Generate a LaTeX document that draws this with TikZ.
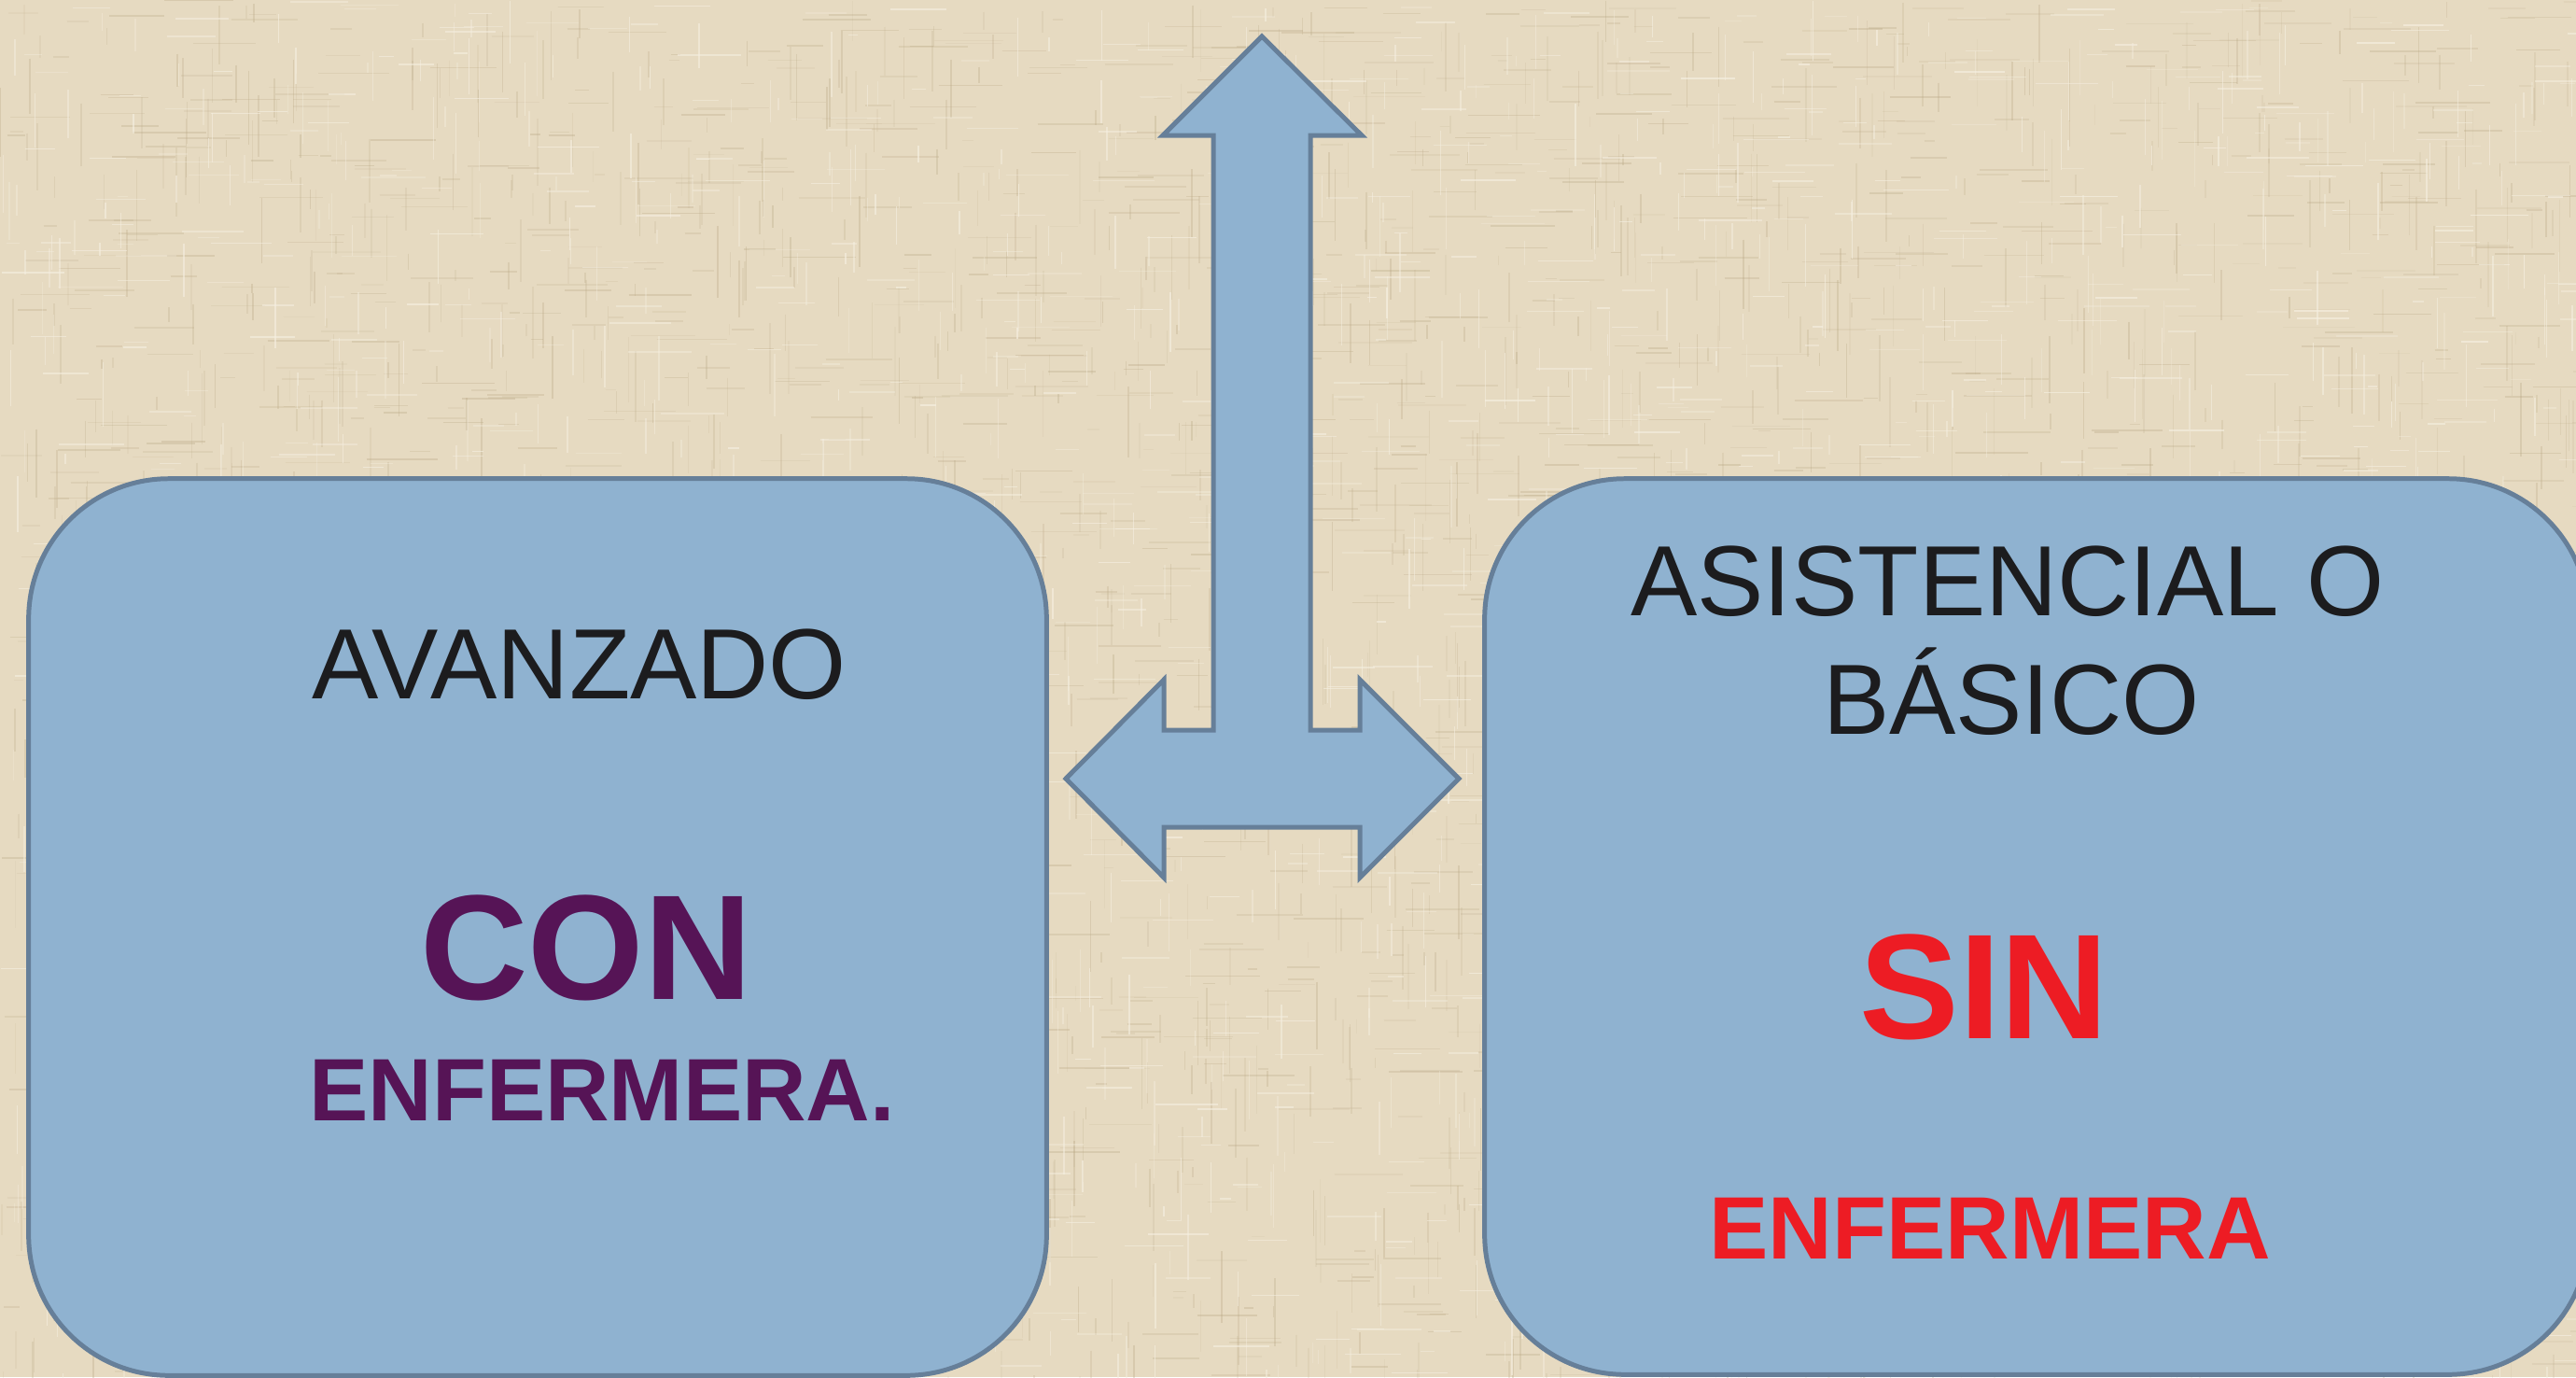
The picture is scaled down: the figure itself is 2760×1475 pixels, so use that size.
\documentclass[tikz,border=0pt]{standalone}
\usepackage{fontspec}
\setmainfont{Liberation Sans}
\definecolor{bgbase}{HTML}{E6DAC1}
\definecolor{bgdark}{HTML}{B5A37F}
\definecolor{bglight}{HTML}{F6F0E2}
\definecolor{boxfill}{HTML}{8FB2D0}
\definecolor{boxline}{HTML}{667F99}
\definecolor{txtblack}{HTML}{1C1C1E}
\definecolor{txtpurple}{HTML}{561456}
\definecolor{txtred}{HTML}{ED1C24}
\tikzset{
  panel/.style={draw=boxline, fill=boxfill, line width=1.42pt, rounded corners=1.5cm, inner sep=0pt},
  plainlbl/.style={anchor=base, inner sep=0pt, text=txtblack, font=\fontsize{30.4pt}{36pt}\selectfont},
  biglbl/.style={anchor=base, inner sep=0pt, font=\bfseries\fontsize{45.5pt}{52pt}\selectfont},
  midlbl/.style={anchor=base, inner sep=0pt, font=\bfseries\fontsize{27pt}{32pt}\selectfont},
  arrowshape/.style={draw=boxline, fill=boxfill, line width=1.42pt, line join=miter},
}
\begin{document}
\begin{tikzpicture}[x=0.01cm, y=-0.01cm]
\useasboundingbox (0,0) rectangle (2760,1475);
\begin{scope}
\clip (0,0) rectangle (2760,1475);
\fill[bgbase] (0,0) rectangle (2760,1475);
\pgfmathsetseed{11}
\foreach \i in {1,...,1800}{
  \pgfmathsetmacro\xx{rnd*2760}
  \pgfmathsetmacro\yy{rnd*1475}
  \pgfmathsetmacro\ll{10+rnd*70}
  \pgfmathsetmacro\oo{0.08+rnd*0.22}
  \draw[bgdark, opacity=\oo, line width=0.45pt] (\xx,\yy) -- ++(0,\ll);
  \draw[bgdark, opacity=\oo, line width=0.45pt] (\yy*1.87,\xx*0.534) -- ++(\ll,0);
}
\foreach \i in {1,...,1200}{
  \pgfmathsetmacro\xx{rnd*2760}
  \pgfmathsetmacro\yy{rnd*1475}
  \pgfmathsetmacro\ll{10+rnd*60}
  \pgfmathsetmacro\oo{0.25+rnd*0.4}
  \draw[bglight, opacity=\oo, line width=0.4pt] (\xx,\yy) -- ++(0,\ll);
  \draw[bglight, opacity=\oo, line width=0.4pt] (\yy*1.87,\xx*0.534) -- ++(\ll,0);
}
% panels
\node[panel, minimum width=10.9cm, minimum height=9.6cm] (leftbox) at (576,993) {};
\node[panel, minimum width=11.82cm, minimum height=9.59cm] (rightbox) at (2182,992.5) {};
\end{scope}
% three-way arrow
\filldraw[arrowshape] (1352,39) -- (1459,145) -- (1404,145) -- (1404,782) -- (1457,782)
  -- (1457,728) -- (1563,834) -- (1457,940) -- (1457,886) -- (1247,886) -- (1247,940)
  -- (1142,834) -- (1247,728) -- (1247,782) -- (1300,782) -- (1300,145) -- (1246,145) -- cycle;
% texts
\node[plainlbl] (avz) at (621,748) {AVANZADO};
\node[biglbl, text=txtpurple] (con) at (628,1070) {CON};
\node[midlbl, text=txtpurple] (enf1) at (645,1200) {ENFERMERA.};
\node[plainlbl] (asis) at (2151,659) {ASISTENCIAL O};
\node[plainlbl] (basico) at (2155,786) {BÁSICO};
\node[biglbl, text=txtred] (sin) at (2126,1112) {SIN};
\node[midlbl, text=txtred] (enf2) at (2132,1348) {ENFERMERA};
\end{tikzpicture}
\end{document}
